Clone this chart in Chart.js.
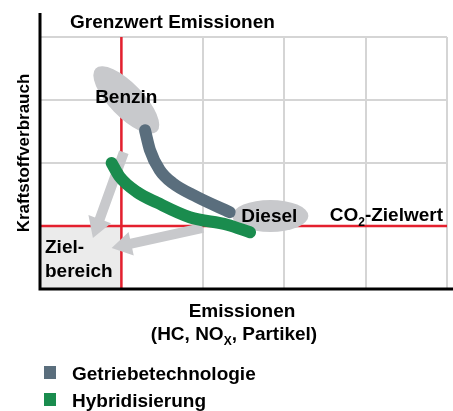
<!DOCTYPE html>
<html>
<head>
<meta charset="utf-8">
<script src="https://cdn.jsdelivr.net/npm/chart.js@4"></script>
<style>
    html, body { margin: 0; padding: 0; background: #fff; }
    canvas { display: block; }
</style>
</head>
<body>
<canvas id="chart" width="453" height="411"></canvas>
<script>
// Daten (Achsen: Emissionen 0..5, Kraftstoffverbrauch 0..4)
const xTicks = [0, 1, 2, 3, 4, 5];
const yTicks = [0, 1, 2, 3, 4];
const limitX = 1; // Grenzwert Emissionen
const limitY = 1; // CO2-Zielwert

const seriesNames = ["Getriebetechnologie", "Hybridisierung"];
const gearX = [1.29, 1.35, 1.47, 1.63, 1.93, 2.33];
const gearY = [2.52, 2.21, 1.89, 1.68, 1.46, 1.22];
const hybridX = [0.88, 0.98, 1.19, 1.44, 1.84, 2.30, 2.58];
const hybridY = [2.0, 1.78, 1.54, 1.37, 1.14, 1.02, 0.90];

// Ellipsen: Benzin, Diesel
const fuelNames = ["Benzin", "Diesel"];
const fuelX = [1.06, 2.83];
const fuelY = [3.0, 1.16];

// Pfeile in Richtung Zielbereich [von, nach]
const arrowFromX = [1.03, 2.0];
const arrowFromY = [2.17, 0.97];
const arrowToX = [0.65, 0.88];
const arrowToY = [0.81, 0.65];

const FONT = '"Liberation Sans", Arial, sans-serif';
const SIZE = 19;
const gray = "#5a6e7d";
const green = "#1a8c4e";
const red = "#e4202e";
const light = "#c8c9cc";

function toPoints(xs, ys) {
    return xs.map((x, i) => ({ x: x, y: ys[i] }));
}

function drawArrow(ctx, x1, y1, x2, y2) {
    const ang = Math.atan2(y2 - y1, x2 - x1);
    const len = Math.hypot(x2 - x1, y2 - y1);
    const shaft = 5, head = 12, headLen = 20;
    ctx.save();
    ctx.translate(x1, y1);
    ctx.rotate(ang);
    ctx.beginPath();
    ctx.moveTo(0, -shaft);
    ctx.lineTo(len - headLen, -shaft);
    ctx.lineTo(len - headLen, -head);
    ctx.lineTo(len, 0);
    ctx.lineTo(len - headLen, head);
    ctx.lineTo(len - headLen, shaft);
    ctx.lineTo(0, shaft);
    ctx.closePath();
    ctx.fillStyle = light;
    ctx.fill();
    ctx.restore();
}

function drawParts(ctx, parts, cx, y, size) {
    // Text mit Tiefstellung
    let total = 0;
    parts.forEach((p) => {
        ctx.font = "bold " + (p.sub ? Math.round(size * 0.62) : size) + "px " + FONT;
        total += ctx.measureText(p.t).width;
    });
    let x = cx === null ? 0 : cx - total / 2;
    return { total: total, draw: (startX) => {
        let xx = startX !== undefined ? startX : x;
        parts.forEach((p) => {
            ctx.font = "bold " + (p.sub ? Math.round(size * 0.62) : size) + "px " + FONT;
            ctx.fillText(p.t, xx, p.sub ? y + size * 0.28 : y);
            xx += ctx.measureText(p.t).width;
        });
    } };
}

const backdrop = {
    id: "backdrop",
    beforeDraw(chart) {
        const ctx = chart.ctx;
        const sx = chart.scales.x, sy = chart.scales.y;
        const a = chart.chartArea;
        // Zielbereich
        ctx.save();
        ctx.fillStyle = "#ebebeb";
        const x1 = sx.getPixelForValue(limitX), y1 = sy.getPixelForValue(limitY);
        ctx.fillRect(a.left, y1, x1 - a.left, a.bottom - y1);
        ctx.restore();
    },
    beforeDatasetsDraw(chart) {
        const ctx = chart.ctx;
        const sx = chart.scales.x, sy = chart.scales.y;
        const a = chart.chartArea;
        ctx.save();
        // Grenzlinien
        ctx.strokeStyle = red;
        ctx.lineWidth = 2.5;
        ctx.beginPath();
        ctx.moveTo(sx.getPixelForValue(limitX), a.top);
        ctx.lineTo(sx.getPixelForValue(limitX), a.bottom);
        ctx.moveTo(a.left, sy.getPixelForValue(limitY));
        ctx.lineTo(a.right, sy.getPixelForValue(limitY));
        ctx.stroke();
        // Pfeile
        for (let i = 0; i < arrowFromX.length; i++) {
            drawArrow(ctx,
                sx.getPixelForValue(arrowFromX[i]), sy.getPixelForValue(arrowFromY[i]),
                sx.getPixelForValue(arrowToX[i]), sy.getPixelForValue(arrowToY[i]));
        }
        // Ellipsen
        ctx.fillStyle = light;
        ctx.beginPath();
        ctx.ellipse(sx.getPixelForValue(fuelX[0]), sy.getPixelForValue(fuelY[0]), 44, 17, Math.PI * 0.255, 0, Math.PI * 2);
        ctx.fill();
        ctx.beginPath();
        ctx.ellipse(sx.getPixelForValue(fuelX[1]), sy.getPixelForValue(fuelY[1]), 38, 16, 0, 0, Math.PI * 2);
        ctx.fill();
        ctx.restore();
    },
    afterDraw(chart) {
        const ctx = chart.ctx;
        const sx = chart.scales.x, sy = chart.scales.y;
        const a = chart.chartArea;
        ctx.save();
        // Achsen
        ctx.strokeStyle = "#000";
        ctx.lineWidth = 3;
        ctx.beginPath();
        ctx.moveTo(a.left, 13);
        ctx.lineTo(a.left, a.bottom);
        ctx.lineTo(chart.width, a.bottom);
        ctx.stroke();

        ctx.fillStyle = "#000";
        ctx.textBaseline = "alphabetic";
        ctx.font = "bold " + SIZE + "px " + FONT;
        ctx.textAlign = "left";
        ctx.fillText("Grenzwert Emissionen", 70, 28);

        // Beschriftungen im Diagramm
        ctx.textAlign = "center";
        ctx.fillText(fuelNames[0], sx.getPixelForValue(fuelX[0]), sy.getPixelForValue(fuelY[0]) + 3);
        ctx.fillText(fuelNames[1], sx.getPixelForValue(fuelX[1]) - 1, sy.getPixelForValue(fuelY[1]) + 6);
        ctx.textAlign = "left";
        const co2 = drawParts(ctx, [{ t: "CO" }, { t: "2", sub: true }, { t: "-Zielwert" }], null, sy.getPixelForValue(limitY) - 5, SIZE);
        co2.draw(a.right - 4 - co2.total);
        ctx.font = "bold " + SIZE + "px " + FONT;
        ctx.fillText("Ziel-", a.left + 5, 253);
        ctx.fillText("bereich", a.left + 5, 277);

        // Achsentitel
        ctx.textAlign = "center";
        ctx.fillText("Emissionen", 242, 317);
        ctx.textAlign = "left";
        drawParts(ctx, [{ t: "(HC, NO" }, { t: "X", sub: true }, { t: ", Partikel)" }], 234, 340, SIZE).draw();

        ctx.save();
        ctx.translate(29, 153);
        ctx.rotate(-Math.PI / 2);
        ctx.textAlign = "center";
        ctx.font = "bold 17px " + FONT;
        ctx.fillText("Kraftstoffverbrauch", 0, 0);
        ctx.restore();

        // Legende
        ctx.textAlign = "left";
        chart.data.datasets.forEach((ds, i) => {
            const y = 366 + i * 27;
            ctx.fillStyle = ds.borderColor;
            ctx.fillRect(44, y, 12, 13);
            ctx.fillStyle = "#000";
            ctx.font = "bold " + SIZE + "px " + FONT;
            ctx.fillText(ds.label, 72, y + 14);
        });
        ctx.restore();
    },
};

new Chart(document.getElementById("chart"), {
    type: "line",
    data: {
        datasets: [
            {
                label: seriesNames[0],
                data: toPoints(gearX, gearY),
                borderColor: gray,
                backgroundColor: gray,
                borderWidth: 12,
                borderCapStyle: "round",
                borderJoinStyle: "round",
                cubicInterpolationMode: "monotone",
                pointRadius: 0,
            },
            {
                label: seriesNames[1],
                data: toPoints(hybridX, hybridY),
                borderColor: green,
                backgroundColor: green,
                borderWidth: 12,
                borderCapStyle: "round",
                borderJoinStyle: "round",
                cubicInterpolationMode: "monotone",
                pointRadius: 0,
            },
        ],
    },
    options: {
        responsive: false,
        animation: false,
        layout: { padding: { left: 40, right: 6, top: 37, bottom: 122 } },
        plugins: { legend: { display: false }, tooltip: { enabled: false } },
        scales: {
            x: {
                type: "linear",
                min: xTicks[0],
                max: xTicks[xTicks.length - 1],
                afterBuildTicks: (s) => { s.ticks = xTicks.map((v) => ({ value: v })); },
                ticks: { display: false },
                grid: { color: "#d5d5d5", lineWidth: 2, drawTicks: false },
                border: { display: false },
            },
            y: {
                type: "linear",
                min: yTicks[0],
                max: yTicks[yTicks.length - 1],
                afterBuildTicks: (s) => { s.ticks = yTicks.map((v) => ({ value: v })); },
                ticks: { display: false },
                grid: { color: "#d5d5d5", lineWidth: 2, drawTicks: false },
                border: { display: false },
            },
        },
    },
    plugins: [backdrop],
});
</script>
</body>
</html>
